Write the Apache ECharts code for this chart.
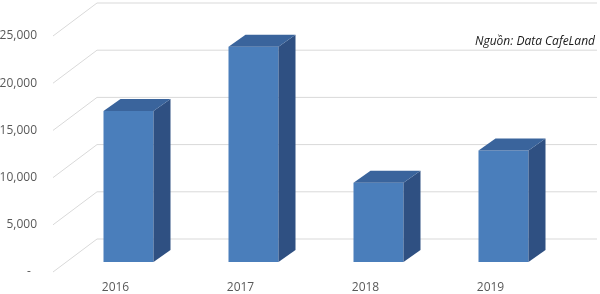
<!DOCTYPE html>
<html><head><meta charset="utf-8">
<script src="https://cdn.jsdelivr.net/npm/echarts@6/dist/echarts.min.js"></script>
<style>html,body{margin:0;padding:0;background:#fff}#c{width:600px;height:294px}</style>
</head><body><div id="c"></div>
<script>
const categories = ['2016', '2017', '2018', '2019'];
const values = [16000, 22800, 8400, 11800];
const yTicks = [0, 5000, 10000, 15000, 20000, 25000];
const sourceNote = 'Nguồn: Data CafeLand';

const WALL_DX = 44, WALL_DY = 33;   // back wall offset from front plane
const BAR_OX = 13, BAR_OY = 10;     // bar front face depth offset
const BAR_DX = 17, BAR_DY = 12;     // bar depth
const BAR_RATIO = 0.4;

const chart = echarts.init(document.getElementById('c'));
const txt = {color: '#595959', fontFamily: 'Open Sans', fontSize: 12};

chart.setOption({
  animation: false,
  grid: {left: 53, right: 47, top: 36, bottom: 22, containLabel: false, outerBoundsMode: 'none'},
  xAxis: {
    type: 'category', data: categories,
    axisLine: {show: false}, axisTick: {show: false}, splitLine: {show: false},
    axisLabel: Object.assign({margin: 10}, txt)
  },
  yAxis: {
    type: 'value', min: 0, max: 25000, interval: 5000,
    axisLine: {show: false}, axisTick: {show: false}, splitLine: {show: false},
    axisLabel: Object.assign({margin: 16, formatter: v => v === 0 ? '-  ' : v.toLocaleString('en-US')}, txt)
  },
  graphic: [{
    type: 'text', right: 5, top: 36,
    style: {text: sourceNote, fill: '#1a1a1a', fontFamily: 'Open Sans', fontStyle: 'italic', fontSize: 12}
  }],
  series: [
    {
      type: 'custom', z: 1, silent: true,
      data: yTicks.map(v => [0, v]),
      renderItem: function (params, api) {
        const cs = params.coordSys;
        const y = api.coord([0, api.value(1)])[1];
        const st = {stroke: '#d9d9d9', lineWidth: 1};
        return {type: 'group', children: [
          {type: 'line', shape: {x1: cs.x, y1: y, x2: cs.x + WALL_DX, y2: y - WALL_DY}, style: st},
          {type: 'line', shape: {x1: cs.x + WALL_DX, y1: y - WALL_DY, x2: cs.x + cs.width + WALL_DX, y2: y - WALL_DY}, style: st}
        ]};
      }
    },
    {
      type: 'custom', z: 2,
      data: values.map((v, i) => [i, v]),
      renderItem: function (params, api) {
        const top = api.coord([api.value(0), api.value(1)]);
        const base = api.coord([api.value(0), 0]);
        const w = api.size([1, 0])[0] * BAR_RATIO;
        const x0 = top[0] - w / 2 + BAR_OX, x1 = x0 + w;
        const yt = top[1] - BAR_OY, yb = base[1] - BAR_OY;
        return {type: 'group', children: [
          {type: 'polygon', shape: {points: [[x0, yt], [x1, yt], [x1, yb], [x0, yb]]}, style: {fill: '#4a7ebb'}},
          {type: 'polygon', shape: {points: [[x1, yt], [x1 + BAR_DX, yt - BAR_DY], [x1 + BAR_DX, yb - BAR_DY], [x1, yb]]}, style: {fill: '#2f5082'}},
          {type: 'polygon', shape: {points: [[x0, yt], [x0 + BAR_DX, yt - BAR_DY], [x1 + BAR_DX, yt - BAR_DY], [x1, yt]]}, style: {fill: '#3a649c'}}
        ]};
      }
    }
  ]
});
</script></body></html>
